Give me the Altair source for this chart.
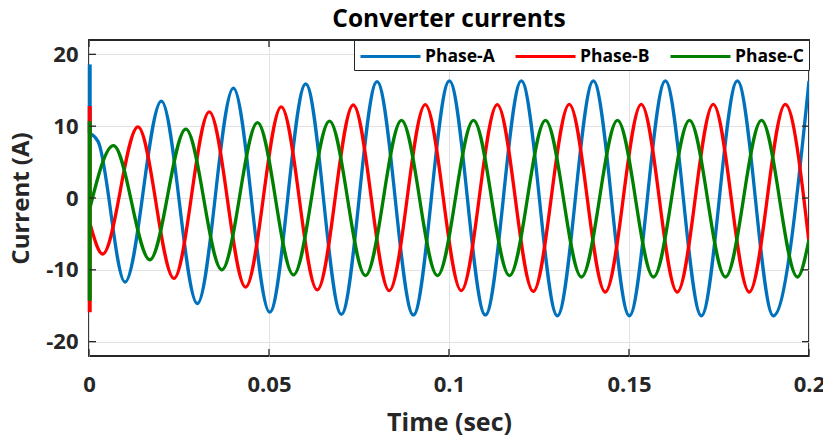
import altair as alt
import pandas as pd

phase_names = ["Phase-A", "Phase-B", "Phase-C"]
phase_colors = ["#0072BD", "#FF0000", "#008000"]

# Phase-A: start of curve, shoulder, then successive troughs/peaks (time s, current A)
a_time = [0.0003, 0.0026, 0.0100, 0.0201, 0.0301, 0.0401, 0.0502, 0.0602, 0.0701,
          0.0800, 0.0901, 0.1001, 0.1101, 0.1201, 0.1301, 0.1401, 0.1501, 0.1601,
          0.1701, 0.1801, 0.1901, 0.2000]
a_curr = [9.0, 7.8, -11.7, 13.5, -14.7, 15.3, -15.9, 15.9, -16.2,
          16.2, -16.3, 16.3, -16.3, 16.3, -16.4, 16.3, -16.4, 16.3,
          -16.4, 16.3, -16.4, 16.3]

b_time = [0.0003, 0.0038, 0.0136, 0.0236, 0.0334, 0.0435, 0.0534, 0.0634, 0.0734,
          0.0834, 0.0934, 0.1034, 0.1134, 0.1234, 0.1334, 0.1434, 0.1534, 0.1634,
          0.1734, 0.1834, 0.1934, 0.2000]
b_curr = [-3.6, -7.8, 9.9, -11.2, 12.0, -12.4, 12.7, -12.8, 12.95,
          -12.9, 13.0, -12.9, 13.0, -13.0, 13.05, -13.1, 13.05, -13.1,
          13.05, -13.1, 13.05, -6.2]

c_time = [0.0003, 0.0068, 0.0169, 0.0269, 0.0369, 0.0468, 0.0568, 0.0668, 0.0768,
          0.0868, 0.0968, 0.1068, 0.1168, 0.1268, 0.1368, 0.1468, 0.1568, 0.1668,
          0.1768, 0.1868, 0.1968, 0.2000]
c_curr = [-1.3, 7.3, -8.6, 9.6, -10.0, 10.5, -10.7, 10.7, -10.8,
          10.8, -10.8, 10.8, -10.8, 10.8, -11.0, 10.8, -11.0, 10.8,
          -11.0, 10.8, -11.0, -5.8]

# start-up spikes at t ~ 0
spike_time = [0.0002, 0.0002, 0.0002]
spike_top = [18.6, 12.8, 10.7]
spike_bottom = [9.0, -15.9, -14.3]

x_ticks = [0, 0.05, 0.1, 0.15, 0.2]
y_ticks = [-20, -10, 0, 10, 20]
x_domain = [0, 0.2]
y_domain = [-22, 22]

rows = []
for name, ts, vs in zip(phase_names, [a_time, b_time, c_time], [a_curr, b_curr, c_curr]):
    for k, (t, v) in enumerate(zip(ts, vs)):
        rows.append({"phase": name, "t": t, "i": v, "k": k})
df = pd.DataFrame(rows)

spikes = pd.DataFrame({"phase": phase_names, "t": spike_time,
                       "top": spike_top, "bottom": spike_bottom})
xt = pd.DataFrame({"xt": x_ticks})
yt = pd.DataFrame({"yt": y_ticks})

W, H = 720, 316
FONT = "Open Sans"
INK = "#262626"

x_scale = alt.Scale(domain=x_domain, nice=False, zero=False)
y_scale = alt.Scale(domain=y_domain, nice=False, zero=False)
color_scale = alt.Scale(domain=phase_names, range=phase_colors)

x_axis = alt.Axis(values=x_ticks, format="~g", title="Time (sec)", grid=True,
                  labelPadding=18, titlePadding=15, labelFlush=False, titleFontSize=25)
y_axis = alt.Axis(values=y_ticks, title="Current (A)", grid=True,
                  labelExpr="datum.value < 0 ? '-' + abs(datum.value) : '' + datum.value",
                  labelPadding=11, titlePadding=12, labelFlush=False, titleFontSize=24)

lines = alt.Chart(df).mark_line(strokeWidth=3.3, interpolate="monotone", clip=True).encode(
    x=alt.X("t:Q", scale=x_scale, axis=x_axis),
    y=alt.Y("i:Q", scale=y_scale, axis=y_axis),
    color=alt.Color("phase:N", scale=color_scale, legend=alt.Legend(title=None)),
    order="k:Q",
)

spike_rules = alt.Chart(spikes).mark_rule(strokeWidth=4).encode(
    x=alt.X("t:Q", scale=x_scale, title="Time (sec)"),
    y=alt.Y("top:Q", scale=y_scale, title="Current (A)"),
    y2="bottom:Q",
    color=alt.Color("phase:N", scale=color_scale),
)

tick_style = dict(color=INK, strokeWidth=1.3)
bottom_ticks = alt.Chart(xt).mark_rule(**tick_style).encode(
    x=alt.X("xt:Q", scale=x_scale, title="Time (sec)"), y=alt.value(H), y2=alt.value(H - 7))
top_ticks = alt.Chart(xt).mark_rule(**tick_style).encode(
    x=alt.X("xt:Q", scale=x_scale, title="Time (sec)"), y=alt.value(0), y2=alt.value(7))
left_ticks = alt.Chart(yt).mark_rule(**tick_style).encode(
    y=alt.Y("yt:Q", scale=y_scale, title="Current (A)"), x=alt.value(0), x2=alt.value(7))
right_ticks = alt.Chart(yt).mark_rule(**tick_style).encode(
    y=alt.Y("yt:Q", scale=y_scale, title="Current (A)"), x=alt.value(W), x2=alt.value(W - 7))

chart = alt.layer(lines, spike_rules, bottom_ticks, top_ticks, left_ticks, right_ticks).properties(
    width=W, height=H,
    title=alt.Title("Converter currents", font=FONT, fontSize=24.5, fontWeight="bold",
                    color="black", offset=7, anchor="middle"),
    autosize=alt.AutoSizeParams(type="none"),
    padding={"left": 81, "top": 32, "right": 14, "bottom": 80},
).configure_view(
    stroke=INK, strokeWidth=1.8
).configure_axis(
    domain=False, ticks=False, tickSize=0,
    gridColor="#e2e2e2", gridWidth=1,
    labelFont=FONT, labelFontWeight="bold", labelFontSize=22, labelColor=INK,
    titleFont=FONT, titleFontWeight="bold", titleColor=INK,
).configure_legend(
    orient="top-right", offset=0, direction="horizontal", columns=3,
    padding=5, strokeColor=INK, fillColor="white",
    symbolType="M-1,0H5", symbolSize=400, symbolStrokeWidth=3,
    labelFont=FONT, labelFontWeight="bold", labelFontSize=17.5, labelColor="black",
    labelOffset=43, columnPadding=14,
)

chart.save("out.html", embed_options={"renderer": "svg", "actions": False})
